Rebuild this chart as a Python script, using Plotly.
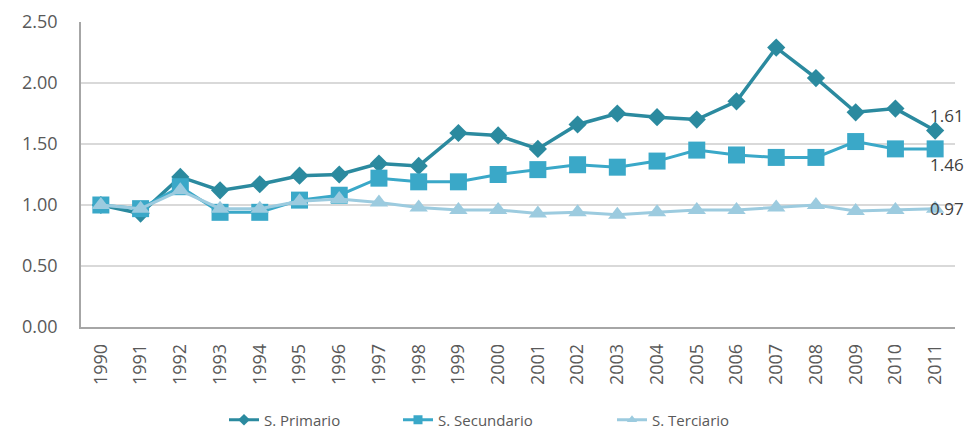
import plotly.graph_objects as go

years = [str(y) for y in range(1990, 2012)]
primario = [1.00, 0.93, 1.23, 1.12, 1.17, 1.24, 1.25, 1.34, 1.32, 1.59, 1.57, 1.46,
            1.66, 1.75, 1.72, 1.70, 1.85, 2.29, 2.04, 1.76, 1.79, 1.61]
secundario = [1.00, 0.97, 1.15, 0.94, 0.94, 1.04, 1.08, 1.22, 1.19, 1.19, 1.25, 1.29,
              1.33, 1.31, 1.36, 1.45, 1.41, 1.39, 1.39, 1.52, 1.46, 1.46]
terciario = [1.00, 0.97, 1.12, 0.97, 0.97, 1.03, 1.05, 1.02, 0.98, 0.96, 0.96, 0.93,
             0.94, 0.92, 0.94, 0.96, 0.96, 0.98, 1.00, 0.95, 0.96, 0.97]
names = ["S. Primario", "S. Secundario", "S. Terciario"]
y_ticks = [0, 0.5, 1.0, 1.5, 2.0, 2.5]

FONT = "Open Sans"
c_prim = "#2b8a9f"
c_sec = "#3aa8c8"
c_ter = "#9ccbdf"

W, H = 966, 426

styles = [
    (primario, names[0], c_prim, "diamond", 14, 3.5, "legend", 15),
    (secundario, names[1], c_sec, "square", 17, 3, "legend2", -16),
    (terciario, names[2], c_ter, "triangle-up", 16, 3, "legend3", 0),
]

fig = go.Figure()
for series, name, col, sym, msize, lw, leg, _ in styles:
    fig.add_trace(go.Scatter(x=years, y=series, name=name, mode="lines+markers",
                             line=dict(color=col, width=lw),
                             marker=dict(symbol=sym, size=msize, color=col),
                             showlegend=False, cliponaxis=False))
# legend entries (smaller symbols, as in the original legend)
for series, name, col, sym, msize, lw, leg, _ in styles:
    fig.add_trace(go.Scatter(x=[None], y=[None], name=name, mode="lines+markers",
                             line=dict(color=col, width=3),
                             marker=dict(symbol=sym, size=9, color=col),
                             showlegend=True, legend=leg))

last_idx = len(years) - 1
for series, name, col, sym, msize, lw, leg, ysh in styles:
    fig.add_annotation(x=last_idx, y=series[-1], text=f"{series[-1]:.2f}",
                       showarrow=False, xanchor="left", yanchor="middle",
                       xshift=-7, yshift=ysh,
                       font=dict(family=FONT, size=17, color="#404040"))

leg_y = (H - 412) / H
leg_common = dict(orientation="h", xanchor="left", yref="container", xref="container",
                  y=leg_y, yanchor="middle",
                  font=dict(family=FONT, size=15, color="#595959"),
                  bgcolor="rgba(0,0,0,0)")
fig.update_layout(
    width=W, height=H,
    margin=dict(l=73, r=19, t=14, b=107),
    paper_bgcolor="white", plot_bgcolor="white",
    font=dict(family=FONT, size=18, color="#595959"),
    showlegend=True,
    legend=dict(x=216 / W, **leg_common),
    legend2=dict(x=390 / W, **leg_common),
    legend3=dict(x=604 / W, **leg_common),
)
fig.update_xaxes(type="category", tickangle=-90, showgrid=False, automargin=False,
                 range=[-0.5, len(years) - 0.5],
                 showline=True, linecolor="#a6a6a6", linewidth=1.5,
                 ticks="", ticklabelstandoff=8,
                 tickfont=dict(family=FONT, size=18, color="#595959"))
fig.update_yaxes(range=[0, 2.5], tickvals=y_ticks, automargin=False,
                 ticktext=[f"{v:.2f}" for v in y_ticks],
                 showgrid=True, gridcolor="#d9d9d9", gridwidth=1.5,
                 showline=True, linecolor="#a6a6a6", linewidth=1.5,
                 zeroline=False, ticks="", ticklabelstandoff=18,
                 tickfont=dict(family=FONT, size=18, color="#595959"))

fig.write_html("out.html")
